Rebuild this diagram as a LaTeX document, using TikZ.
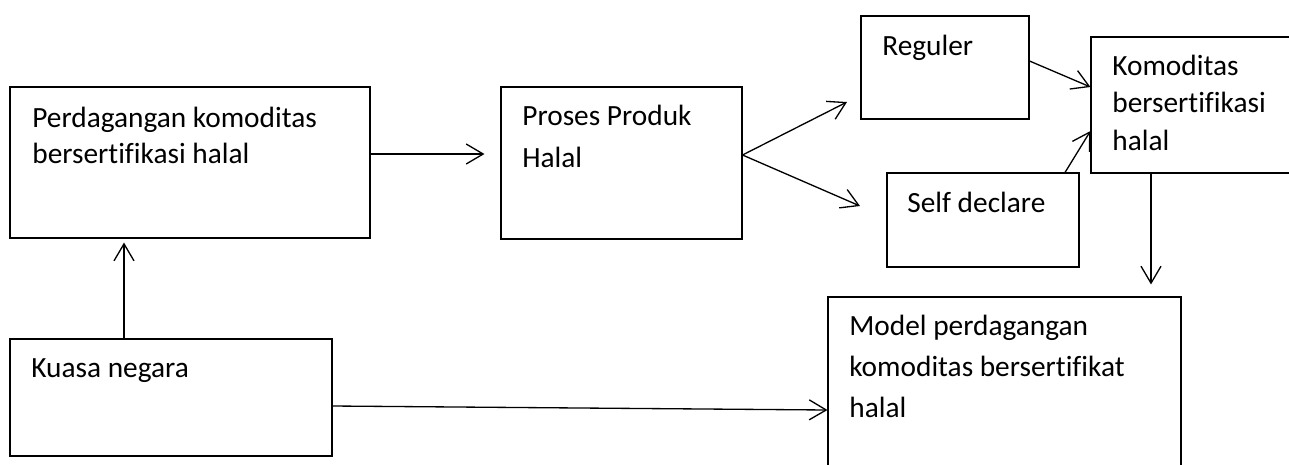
\documentclass[tikz,border=0pt]{standalone}
\usepackage{fontspec}
\setmainfont[Ligatures=NoCommon]{Carlito}
\usetikzlibrary{arrows.meta,fit}

\begin{document}
\begin{tikzpicture}[
        x=0.02cm, y=-0.02cm,
        % Plain boxes
        box/.style={draw, line width=0.6pt, inner sep=0pt},
        % Box texts (placed at the baseline of the last line)
        boxtext/.style={anchor=base west, inner sep=0pt, align=left, font=\fontsize{16.7}{21}\selectfont},
        % Open arrows
        arrow/.style={-{Straight Barb[length=3.4mm, width=4mm]}, line width=0.75pt}
    ]
    \useasboundingbox (0,0) rectangle (1289,464);

    % Boxes
    \node[box, fit={(10,87)(370,238)}] (dagang) {};
    \node[box, fit={(501,87)(742,239)}] (proses) {};
    \node[box, fit={(861,16)(1029,119)}] (reguler) {};
    \node[box, fit={(887,173)(1079,267)}] (selfdec) {};
    \node[box, fit={(1091,37)(1300,173)}] (komoditas) {};
    \node[box, fit={(10,339)(332,456)}] (kuasa) {};
    \node[box, fit={(828,297)(1181,475)}] (model) {};

    % Texts
    \node[boxtext, font=\fontsize{16.7}{20.4}\selectfont] (dagangtext) at (32,163) {Perdagangan komoditas\\bersertifikasi halal};
    \node[boxtext, font=\fontsize{16.7}{23.8}\selectfont] (prosestext) at (522,167) {Proses Produk\\Halal};
    \node[boxtext] (regulertext) at (882,55) {Reguler};
    \node[boxtext] (selfdectext) at (907,212) {Self declare};
    \node[boxtext, font=\fontsize{16.7}{21.3}\selectfont] (komoditastext) at (1112,150) {Komoditas\\bersertifikasi\\halal};
    \node[boxtext] (kuasatext) at (31,377) {Kuasa negara};
    \node[boxtext, font=\fontsize{16.7}{23.2}\selectfont] (modeltext) at (849,417) {Model perdagangan\\komoditas bersertifikat\\halal};

    % Free ends
    \coordinate (split) at (proses.east |- 0,155);
    \coordinate (regin) at (847,102);
    \coordinate (selfin) at (860,206);

    % Connections
    \draw[arrow, shorten >=0.32cm] (dagang.east |- 0,154) -- (proses.west |- 0,154);
    \draw[arrow] (split) -- (regin);
    \draw[arrow] (split) -- (selfin);
    \draw[arrow] (reguler.east |- 0,61) -- (komoditas.west |- 0,87);
    \draw[arrow] (selfdec.north -| 1065,0) -- (komoditas.west |- 0,131);
    \draw[arrow, shorten >=0.24cm] (komoditas.south -| 1151,0) -- (model.north -| 1151,0);
    \draw[arrow, shorten >=0.08cm] (kuasa.north -| 124,0) -- (dagang.south -| 124,0);
    \draw[arrow] (kuasa.east |- 0,406) -- (model.west |- 0,410);

\end{tikzpicture}
\end{document}
